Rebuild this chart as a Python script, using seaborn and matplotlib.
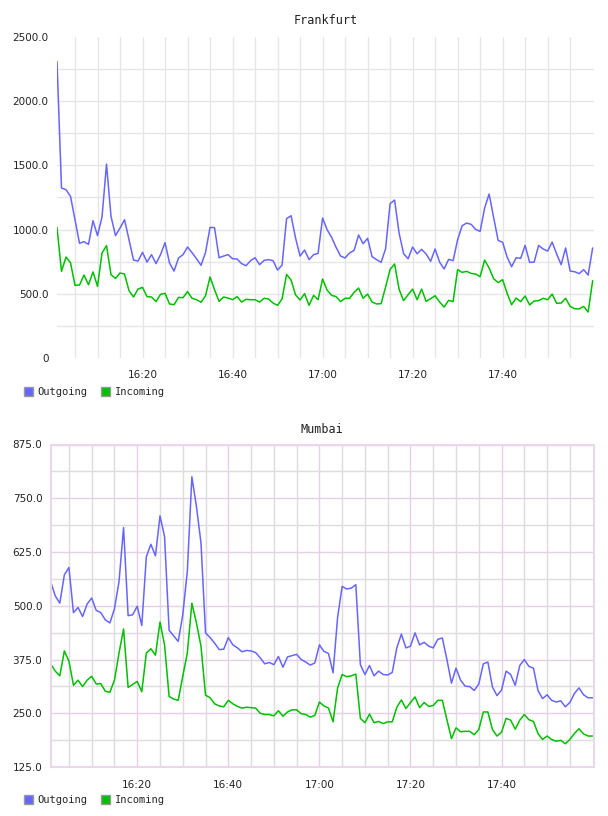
import numpy as np
import pandas as pd
import matplotlib
matplotlib.use("Agg")
import matplotlib.pyplot as plt
from matplotlib.patches import Patch
import seaborn as sns

# ---------------- data ----------------
series_names = ["Outgoing", "Incoming"]
tick_positions = [20, 40, 60, 80, 100]          # minutes after 16:00
tick_labels = ["16:20", "16:40", "17:00", "17:20", "17:40"]
minutes = list(range(1, 121))                    # 16:01 .. 18:00

frankfurt_out = [2310, 1324, 1311, 1259, 1077, 893, 906, 885, 1069, 953,
                 1098, 1510, 1103, 953, 1012, 1077, 921, 763, 755, 823,
                 747, 805, 735, 805, 898, 740, 677, 779, 805, 864,
                 820, 773, 722, 823, 1017, 1015, 781, 794, 805, 773,
                 771, 735, 719, 758, 781, 727, 760, 766, 758, 685,
                 724, 1085, 1108, 934, 794, 841, 766, 805, 815, 1090,
                 1000, 940, 862, 794, 779, 818, 838, 958, 890, 932,
                 789, 766, 745, 851, 1202, 1230, 973, 812, 773, 864,
                 812, 846, 810, 753, 849, 747, 693, 768, 758, 921,
                 1030, 1051, 1041, 1002, 986, 1168, 1277, 1095, 916, 901,
                 786, 711, 781, 776, 877, 745, 747, 877, 849, 833,
                 903, 810, 727, 857, 677, 672, 657, 688, 646, 857]
frankfurt_in = [1017, 675, 786, 742, 566, 568, 646, 571, 670, 558,
                818, 875, 649, 620, 662, 654, 524, 475, 537, 550,
                478, 475, 439, 496, 504, 421, 415, 472, 470, 517,
                465, 454, 434, 485, 631, 532, 441, 475, 467, 454,
                478, 436, 457, 454, 454, 436, 465, 460, 428, 410,
                460, 651, 607, 491, 452, 501, 410, 488, 454, 615,
                529, 488, 478, 439, 465, 465, 511, 545, 465, 498,
                436, 421, 423, 553, 690, 732, 535, 447, 493, 537,
                454, 537, 441, 462, 485, 436, 397, 449, 439, 688,
                667, 675, 659, 654, 633, 763, 701, 618, 587, 610,
                504, 415, 467, 439, 483, 413, 444, 447, 465, 454,
                498, 426, 428, 465, 402, 384, 382, 402, 358, 602]
mumbai_out = [556, 523, 506, 572, 589, 484, 496, 475, 504, 518,
              489, 484, 467, 460, 493, 556, 682, 477, 479, 499,
              454, 614, 643, 616, 709, 661, 443, 430, 417, 479,
              580, 800, 731, 646, 437, 426, 413, 398, 399, 426,
              409, 402, 393, 396, 395, 391, 379, 365, 368, 363,
              382, 357, 381, 384, 387, 375, 369, 362, 367, 409,
              394, 389, 344, 473, 545, 539, 541, 549, 363, 340,
              361, 337, 348, 340, 339, 345, 402, 434, 402, 406,
              437, 409, 415, 406, 402, 422, 425, 375, 320, 355,
              327, 313, 312, 303, 318, 365, 369, 311, 291, 304,
              348, 340, 315, 361, 375, 359, 355, 303, 284, 293,
              280, 276, 279, 265, 275, 296, 309, 293, 286, 286]
mumbai_in = [365, 348, 337, 395, 371, 315, 327, 312, 327, 336,
             318, 319, 301, 299, 327, 390, 446, 310, 317, 324,
             300, 390, 400, 385, 462, 409, 289, 283, 280, 336,
             390, 506, 460, 406, 292, 286, 272, 267, 265, 280,
             272, 266, 262, 264, 263, 262, 250, 247, 247, 244,
             256, 243, 253, 258, 258, 249, 247, 241, 245, 276,
             267, 262, 230, 309, 340, 335, 337, 341, 238, 228,
             248, 228, 231, 226, 230, 230, 264, 281, 261, 275,
             288, 263, 275, 266, 268, 280, 280, 235, 191, 216,
             207, 208, 208, 200, 212, 253, 253, 212, 197, 206,
             238, 234, 213, 234, 247, 235, 231, 203, 189, 197,
             189, 185, 187, 179, 189, 203, 214, 202, 197, 197]

frank_yticks = [0, 500, 1000, 1500, 2000, 2500]
frank_ylabels = ["0", "500.0", "1000.0", "1500.0", "2000.0", "2500.0"]
mumbai_yticks = [125, 250, 375, 500, 625, 750, 875]
mumbai_ylabels = ["125.0", "250.0", "375.0", "500.0", "625.0", "750.0", "875.0"]

# ---------------- style ----------------
BLUE = "#6666ff"
GREEN = "#00c000"
palette = {"Outgoing": BLUE, "Incoming": GREEN}

sns.set_style("white")
plt.rcParams["font.family"] = ["DejaVu Sans"]

def long_df(out, inc):
    return pd.DataFrame({
        "minute": minutes * 2,
        "value": list(out) + list(inc),
        "series": ["Outgoing"] * len(out) + ["Incoming"] * len(inc),
    })

fig = plt.figure(figsize=(6.08, 8.16), dpi=100)
ax1 = fig.add_axes([57 / 608, 1 - 358 / 816, 537 / 608, 321 / 816])
ax2 = fig.add_axes([50.7 / 608, 1 - 767 / 816, 543.3 / 608, 322.5 / 816])

minor_x = [m for m in range(5, 120, 5) if m not in tick_positions]

def common(ax, df, yticks, ylabels, minor_y, title, tpad):
    sns.lineplot(data=df, x="minute", y="value", hue="series", palette=palette,
                 hue_order=series_names, ax=ax, legend=False, linewidth=1.1,
                 estimator=None)
    ax.set_xlim(1, 120.3)
    ax.set_ylim(yticks[0], yticks[-1])
    ax.set_xticks(tick_positions)
    ax.set_xticklabels(tick_labels)
    ax.set_xticks(minor_x, minor=True)
    ax.set_yticks(yticks)
    ax.set_yticklabels(ylabels)
    ax.set_yticks(minor_y, minor=True)
    ax.set_xlabel("")
    ax.set_ylabel("")
    ax.tick_params(axis="both", which="both", length=0, labelsize=7.5,
                   labelcolor="#222222")
    ax.tick_params(axis="x", pad=9)
    ax.tick_params(axis="y", pad=6)
    ax.set_title(title, fontsize=8.5, family="DejaVu Sans Mono",
                 color="#222222", pad=tpad)
    ax.set_axisbelow(True)

common(ax1, long_df(frankfurt_out, frankfurt_in), frank_yticks, frank_ylabels,
       [250, 750, 1250, 1750, 2250], "Frankfurt", 9)
common(ax2, long_df(mumbai_out, mumbai_in), mumbai_yticks, mumbai_ylabels,
       [187.5, 312.5, 437.5, 562.5, 687.5, 812.5], "Mumbai", 8.5)

# Frankfurt grid: light gray, no frame
ax1.grid(True, which="both", color="#e6e6e6", linewidth=1.0)
for s in ax1.spines.values():
    s.set_visible(False)
gl = ax1.yaxis.get_gridlines()
gl[0].set_visible(False)
gl[-1].set_visible(False)

# Mumbai grid: purple majors, gray minors, purple frame
ax2.grid(True, which="major", color="#e6d0e6", linewidth=1.0)
ax2.grid(True, which="minor", color="#e0dbe0", linewidth=1.0)
for s in ax2.spines.values():
    s.set_visible(True)
    s.set_color("#ead8ea")
    s.set_linewidth(1.5)

# legends
handles = [Patch(facecolor=BLUE, edgecolor="#999999", linewidth=1.0),
           Patch(facecolor=GREEN, edgecolor="#999999", linewidth=1.0)]
for ypos in (1 - 392 / 816, 1 - 800 / 816):
    fig.legend(handles, series_names, loc="center left",
               bbox_to_anchor=(0.04, ypos), ncol=2, frameon=False,
               handlelength=0.85, handleheight=0.85, handletextpad=0.45,
               columnspacing=1.3, borderaxespad=0, borderpad=0,
               prop={"family": "DejaVu Sans Mono", "size": 7.5})

fig.savefig("out.png", dpi=100)
